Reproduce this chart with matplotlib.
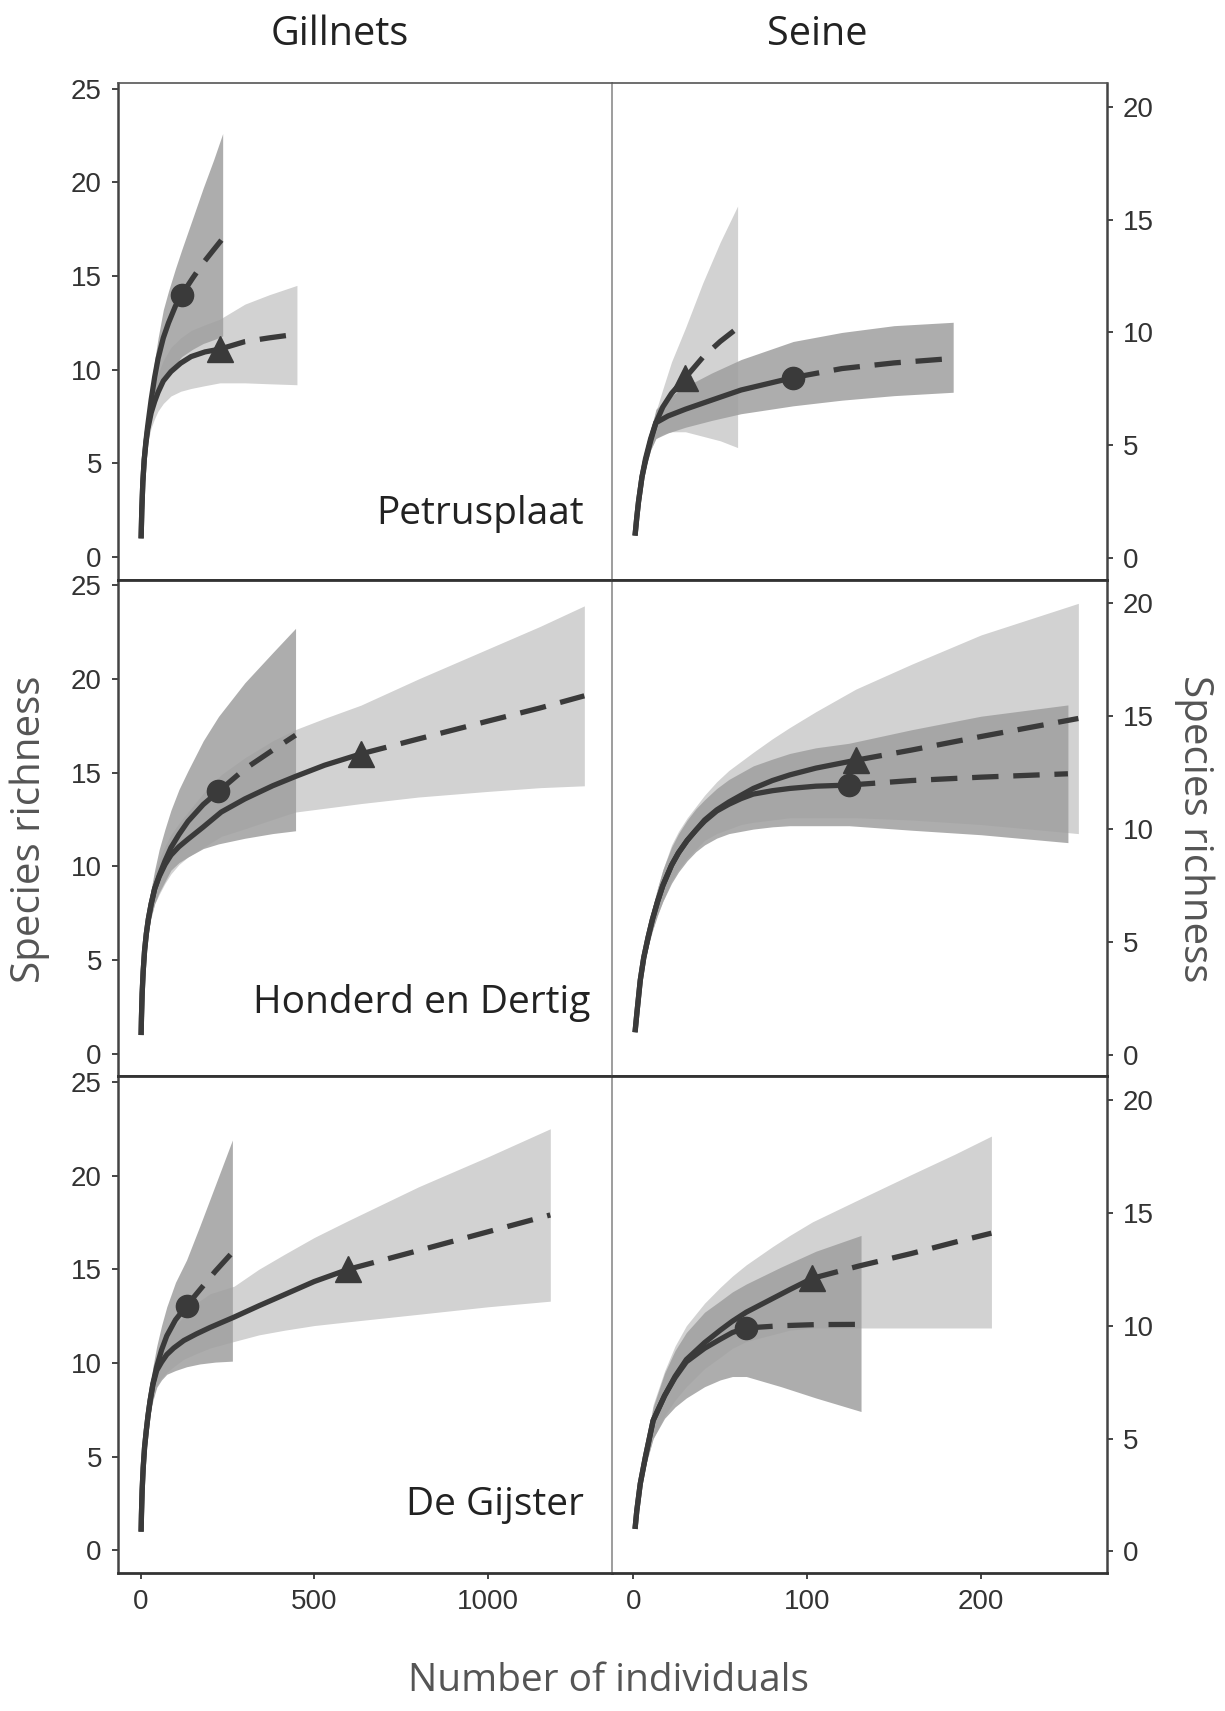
import matplotlib
matplotlib.use('Agg')
import matplotlib.pyplot as plt
import numpy as np

# ---- data (n = number of individuals, s = species) ----
# Petrusplaat, gillnets
pet_gn_circ_n = [1, 3, 6, 10, 15, 20, 30, 40, 50, 65, 80, 100, 118, 150, 180, 210, 236]
pet_gn_circ_s = [1, 2.5, 4.0, 5.2, 6.2, 7.0, 8.4, 9.6, 10.6, 11.7, 12.5, 13.4, 14.0,
                 14.9, 15.7, 16.4, 17.0]
pet_gn_circ_lo = [1, 2.3, 3.6, 4.7, 5.6, 6.3, 7.4, 8.3, 8.9, 9.5, 9.9, 10.3, 10.7,
                  11.1, 11.4, 11.6, 11.8]
pet_gn_circ_hi = [1, 2.7, 4.4, 5.8, 6.9, 7.8, 9.2, 10.5, 11.7, 13.2, 14.2, 15.4, 16.4,
                  18.1, 19.7, 21.2, 22.6]
pet_gn_circ_obs = 118
pet_gn_tri_n = [1, 3, 6, 10, 15, 20, 30, 40, 50, 65, 87, 115, 145, 185, 228, 300, 370, 450]
pet_gn_tri_s = [1, 2.5, 4.0, 5.2, 6.1, 6.8, 7.7, 8.3, 8.8, 9.4, 9.9, 10.35, 10.7, 10.95,
                11.1, 11.5, 11.7, 11.9]
pet_gn_tri_lo = [1, 2.3, 3.6, 4.7, 5.5, 6.1, 6.9, 7.4, 7.8, 8.2, 8.6, 8.85, 9.0, 9.15,
                 9.3, 9.3, 9.25, 9.2]
pet_gn_tri_hi = [1, 2.7, 4.4, 5.7, 6.7, 7.5, 8.5, 9.2, 9.8, 10.5, 11.2, 11.7, 12.1, 12.4,
                 12.7, 13.5, 14.0, 14.5]
pet_gn_tri_obs = 228

# Petrusplaat, seine
pet_se_tri_n = [1, 2, 3, 5, 7, 10, 13, 17, 22, 30, 40, 50, 60]
pet_se_tri_s = [1, 1.8, 2.5, 3.6, 4.4, 5.3, 6.0, 6.7, 7.3, 8.0, 8.9, 9.6, 10.2]
pet_se_tri_lo = [1, 1.7, 2.3, 3.3, 4.0, 4.8, 5.3, 5.5, 5.6, 5.6, 5.4, 5.2, 4.9]
pet_se_tri_hi = [1, 1.9, 2.7, 3.9, 4.8, 5.8, 6.5, 7.5, 8.7, 10.2, 12.2, 14.0, 15.6]
pet_se_tri_obs = 30
pet_se_circ_n = [1, 2, 3, 5, 7, 10, 13, 20, 30, 45, 62, 92, 120, 150, 184]
pet_se_circ_s = [1, 1.8, 2.5, 3.6, 4.3, 5.2, 6.0, 6.3, 6.6, 7.0, 7.45, 8.0, 8.4, 8.65, 8.85]
pet_se_circ_lo = [1, 1.7, 2.3, 3.4, 4.0, 4.8, 5.3, 5.55, 5.8, 6.1, 6.4, 6.75, 7.0, 7.2, 7.35]
pet_se_circ_hi = [1, 1.9, 2.7, 3.8, 4.6, 5.6, 6.6, 7.1, 7.6, 8.2, 8.8, 9.6, 10.0, 10.3, 10.45]
pet_se_circ_obs = 92

# Honderd en Dertig, gillnets
hon_gn_circ_n = [1, 2, 4, 7, 11, 16, 22, 30, 40, 53, 70, 87, 110, 136, 180, 224,
                 300, 380, 446]
hon_gn_circ_s = [1, 1.9, 3.2, 4.4, 5.5, 6.4, 7.2, 8.0, 8.8, 9.5, 10.3, 11.0, 11.7, 12.4,
                 13.3, 14.0, 15.2, 16.2, 17.0]
hon_gn_circ_lo = [1, 1.8, 3.0, 4.1, 5.1, 5.9, 6.6, 7.3, 8.0, 8.6, 9.2, 9.8, 10.2, 10.5,
                  10.95, 11.2, 11.5, 11.75, 11.9]
hon_gn_circ_hi = [1, 2.0, 3.4, 4.7, 5.9, 6.9, 7.8, 8.8, 9.8, 10.9, 12.0, 13.0, 14.1, 15.1,
                  16.7, 18.0, 19.8, 21.4, 22.7]
hon_gn_circ_obs = 224
hon_gn_tri_n = [1, 2, 4, 7, 11, 16, 22, 30, 40, 53, 70, 87, 110, 136, 180, 232, 300, 380,
                446, 530, 634, 800, 1000, 1150, 1278]
hon_gn_tri_s = [1, 1.9, 3.2, 4.4, 5.5, 6.4, 7.2, 8.0, 8.8, 9.45, 10.1, 10.6, 11.05, 11.45,
                12.1, 12.9, 13.6, 14.3, 14.8, 15.4, 16.0, 16.8, 17.75, 18.45, 19.1]
hon_gn_tri_lo = [1, 1.8, 3.0, 4.1, 5.1, 5.9, 6.6, 7.3, 8.0, 8.5, 9.1, 9.6, 10.1, 10.5,
                 11.0, 11.6, 12.0, 12.5, 12.9, 13.1, 13.35, 13.7, 14.0, 14.2, 14.3]
hon_gn_tri_hi = [1, 2.0, 3.4, 4.7, 5.9, 6.9, 7.8, 8.7, 9.6, 10.4, 11.1, 11.7, 12.3, 12.9,
                 13.9, 14.9, 15.8, 16.7, 17.3, 17.9, 18.6, 20.0, 21.6, 22.8, 23.9]
hon_gn_tri_obs = 634

# Honderd en Dertig, seine
hon_se_circ_n = [1, 2, 4, 6, 8.5, 11, 14, 17, 22, 26, 31, 36, 41, 48, 55, 62, 69, 80,
                 90, 105, 124, 160, 200, 250]
hon_se_circ_s = [1, 1.8, 3.3, 4.3, 5.2, 6.0, 6.8, 7.5, 8.4, 8.95, 9.5, 9.95, 10.35, 10.8,
                 11.1, 11.35, 11.55, 11.7, 11.8, 11.9, 11.95, 12.15, 12.3, 12.45]
hon_se_circ_lo = [1, 1.7, 3.1, 4.0, 4.8, 5.5, 6.2, 6.8, 7.6, 8.1, 8.6, 9.0, 9.3, 9.6,
                  9.8, 9.9, 10.0, 10.1, 10.15, 10.15, 10.15, 9.95, 9.75, 9.4]
hon_se_circ_hi = [1, 1.9, 3.5, 4.6, 5.6, 6.5, 7.4, 8.2, 9.2, 9.8, 10.4, 10.9, 11.3, 11.8,
                  12.2, 12.5, 12.8, 13.1, 13.35, 13.6, 13.8, 14.4, 15.0, 15.5]
hon_se_circ_obs = 124
hon_se_tri_n = [1, 2, 4, 6, 8.5, 11, 14, 17, 22, 26, 31, 36, 41, 48, 55, 62, 69, 80,
                90, 105, 128, 160, 200, 256]
hon_se_tri_s = [1, 1.8, 3.3, 4.3, 5.2, 6.0, 6.8, 7.5, 8.4, 8.95, 9.5, 9.95, 10.4, 10.85,
                11.2, 11.5, 11.8, 12.15, 12.4, 12.7, 13.05, 13.5, 14.1, 14.9]
hon_se_tri_lo = [1, 1.7, 3.1, 4.0, 4.8, 5.5, 6.2, 6.8, 7.7, 8.2, 8.7, 9.1, 9.5, 9.8,
                 10.0, 10.2, 10.3, 10.4, 10.5, 10.5, 10.5, 10.4, 10.2, 9.8]
hon_se_tri_hi = [1, 1.9, 3.5, 4.6, 5.6, 6.5, 7.4, 8.2, 9.3, 9.9, 10.5, 11.0, 11.5, 12.1,
                 12.6, 13.0, 13.4, 14.0, 14.5, 15.2, 16.2, 17.3, 18.6, 20.0]
hon_se_tri_obs = 128

# De Gijster, gillnets
gij_gn_circ_n = [1, 2, 4, 7, 11, 16, 21, 27, 35, 46, 60, 75, 100, 132, 170, 215, 264]
gij_gn_circ_s = [1, 1.9, 3.2, 4.4, 5.5, 6.4, 7.2, 8.0, 8.9, 9.8, 10.7, 11.45, 12.3, 13.05,
                 13.9, 14.9, 15.9]
gij_gn_circ_lo = [1, 1.8, 3.0, 4.1, 5.1, 5.9, 6.6, 7.3, 8.0, 8.7, 9.1, 9.4, 9.6, 9.8,
                  9.95, 10.05, 10.1]
gij_gn_circ_hi = [1, 2.0, 3.4, 4.7, 5.9, 6.9, 7.8, 8.7, 9.8, 10.9, 12.0, 13.0, 14.3, 15.5,
                  17.3, 19.5, 21.9]
gij_gn_circ_obs = 132
gij_gn_tri_n = [1, 2, 4, 7, 11, 16, 21, 27, 35, 46, 60, 75, 95, 124, 160, 200, 269, 340,
                414, 500, 598, 800, 1000, 1180]
gij_gn_tri_s = [1, 1.9, 3.2, 4.4, 5.5, 6.4, 7.2, 8.0, 8.85, 9.6, 10.05, 10.45, 10.8, 11.2,
                11.55, 11.9, 12.45, 13.05, 13.65, 14.35, 15.0, 16.0, 17.0, 17.9]
gij_gn_tri_lo = [1, 1.8, 3.0, 4.1, 5.1, 5.9, 6.6, 7.4, 8.1, 8.8, 9.2, 9.5, 9.8, 10.2,
                 10.5, 10.8, 11.15, 11.5, 11.75, 12.0, 12.2, 12.6, 13.0, 13.3]
gij_gn_tri_hi = [1, 2.0, 3.4, 4.7, 5.9, 6.9, 7.8, 8.6, 9.6, 10.4, 10.9, 11.4, 11.9, 12.5,
                 13.2, 13.7, 14.1, 15.0, 15.8, 16.7, 17.6, 19.4, 21.0, 22.5]
gij_gn_tri_obs = 598

# De Gijster, seine
gij_se_circ_n = [1, 2, 4, 7, 11.4, 18, 24, 30.5, 41, 50, 57, 65, 85, 105, 131]
gij_se_circ_s = [1, 1.8, 3.0, 4.2, 5.8, 6.9, 7.7, 8.4, 9.0, 9.4, 9.7, 9.9, 10.0, 10.05, 10.06]
gij_se_circ_lo = [1, 1.7, 2.8, 3.8, 5.0, 5.9, 6.4, 6.8, 7.3, 7.6, 7.75, 7.75, 7.3, 6.8, 6.2]
gij_se_circ_hi = [1, 1.9, 3.2, 4.6, 6.4, 7.9, 8.9, 9.7, 10.6, 11.1, 11.5, 11.85, 12.6,
                  13.3, 14.0]
gij_se_circ_obs = 65
gij_se_tri_n = [1, 2, 4, 7, 11.4, 18, 24, 30.5, 41, 50, 57, 65, 80, 90, 103, 130, 160,
                185, 206]
gij_se_tri_s = [1, 1.8, 3.0, 4.2, 5.8, 6.9, 7.75, 8.5, 9.25, 9.8, 10.2, 10.6, 11.2, 11.6,
                12.1, 12.65, 13.2, 13.7, 14.1]
gij_se_tri_lo = [1, 1.7, 2.8, 3.8, 5.0, 6.0, 6.7, 7.3, 8.1, 8.6, 9.0, 9.3, 9.6, 9.8, 9.9,
                 9.9, 9.9, 9.9, 9.9]
gij_se_tri_hi = [1, 1.9, 3.3, 4.7, 6.5, 8.0, 9.1, 10.0, 11.0, 11.7, 12.2, 12.7, 13.5, 14.0,
                 14.6, 15.6, 16.7, 17.6, 18.4]
gij_se_tri_obs = 103

gear_titles = ['Gillnets', 'Seine']
site_names = ['Petrusplaat', 'Honderd en Dertig', 'De Gijster']
gill_xticks = [0, 500, 1000]
seine_xticks = [0, 100, 200]
gill_yticks = [0, 5, 10, 15, 20, 25]
seine_yticks = [0, 5, 10, 15, 20]

LINE = '#3a3a3a'
LIGHT = '#d2d2d2'
DARK = '#9f9f9f'
TXT = 'Open Sans'

plt.rcParams['font.family'] = ['Liberation Sans', 'DejaVu Sans']


def draw_curve(ax, n, s, lo, hi, n_obs, marker, shade, alpha, z):
    n = np.asarray(n, float)
    s = np.asarray(s, float)
    ax.fill_between(n, lo, hi, color=shade, alpha=alpha, lw=0, zorder=z)
    i = int(np.where(n == n_obs)[0][0])
    ax.plot(n[:i + 1], s[:i + 1], color=LINE, lw=3.8, solid_capstyle='butt',
            solid_joinstyle='round', zorder=5)
    ax.plot(n[i:], s[i:], color=LINE, lw=3.8, dashes=(5.0, 2.8), zorder=5)
    ms = 16 if marker == 'o' else 19
    ax.plot([n[i]], [s[i]], marker=marker, ms=ms, color=LINE, mec=LINE, zorder=6)


panels = [
    [(pet_gn_tri_n, pet_gn_tri_s, pet_gn_tri_lo, pet_gn_tri_hi, pet_gn_tri_obs),
     (pet_gn_circ_n, pet_gn_circ_s, pet_gn_circ_lo, pet_gn_circ_hi, pet_gn_circ_obs)],
    [(pet_se_tri_n, pet_se_tri_s, pet_se_tri_lo, pet_se_tri_hi, pet_se_tri_obs),
     (pet_se_circ_n, pet_se_circ_s, pet_se_circ_lo, pet_se_circ_hi, pet_se_circ_obs)],
    [(hon_gn_tri_n, hon_gn_tri_s, hon_gn_tri_lo, hon_gn_tri_hi, hon_gn_tri_obs),
     (hon_gn_circ_n, hon_gn_circ_s, hon_gn_circ_lo, hon_gn_circ_hi, hon_gn_circ_obs)],
    [(hon_se_tri_n, hon_se_tri_s, hon_se_tri_lo, hon_se_tri_hi, hon_se_tri_obs),
     (hon_se_circ_n, hon_se_circ_s, hon_se_circ_lo, hon_se_circ_hi, hon_se_circ_obs)],
    [(gij_gn_tri_n, gij_gn_tri_s, gij_gn_tri_lo, gij_gn_tri_hi, gij_gn_tri_obs),
     (gij_gn_circ_n, gij_gn_circ_s, gij_gn_circ_lo, gij_gn_circ_hi, gij_gn_circ_obs)],
    [(gij_se_tri_n, gij_se_tri_s, gij_se_tri_lo, gij_se_tri_hi, gij_se_tri_obs),
     (gij_se_circ_n, gij_se_circ_s, gij_se_circ_lo, gij_se_circ_hi, gij_se_circ_obs)],
]
site_pos = [(0.942, 0.132), (0.956, 0.147), (0.942, 0.136)]

fig = plt.figure(figsize=(12.25, 17.11), dpi=100)
gs = fig.add_gridspec(3, 2, left=0.0962, right=0.9037, bottom=0.0807, top=0.9515,
                      hspace=0, wspace=0)

for r in range(3):
    for c in range(2):
        ax = fig.add_subplot(gs[r, c])
        tri, circ = panels[2 * r + c]
        draw_curve(ax, *tri, '^', LIGHT, 1.0, 1)
        draw_curve(ax, *circ, 'o', DARK, 0.85, 2)

        if c == 0:
            ax.set_xlim(-66, 1359)
            ax.set_ylim(-1.2, 25.3)
            ax.set_yticks(gill_yticks)
            ax.set_xticks(gill_xticks)
            ax.spines['right'].set_visible(False)
            ax.spines['left'].set_color('#444444')
            ax.spines['left'].set_linewidth(1.8)
            x_txt, y_txt = site_pos[r]
            ax.text(x_txt, y_txt, site_names[r], transform=ax.transAxes, ha='right',
                    va='center', fontsize=28, family=TXT, color='#222222')
        else:
            ax.set_xlim(-12, 272.5)
            ax.set_ylim(-0.95, 21.05)
            ax.set_yticks(seine_yticks)
            ax.set_xticks(seine_xticks)
            ax.yaxis.tick_right()
            ax.spines['left'].set_color('#8c8c8c')
            ax.spines['left'].set_linewidth(1.2)
            ax.spines['right'].set_color('#444444')
            ax.spines['right'].set_linewidth(1.8)

        ax.spines['bottom'].set_color('#333333')
        ax.spines['bottom'].set_linewidth(2.0)
        ax.spines['top'].set_color('#555555' if r == 0 else '#333333')
        ax.spines['top'].set_linewidth(1.2 if r == 0 else 2.0)

        ax.tick_params(axis='y', labelsize=20, length=4.5, width=1.4, color='#444444',
                       labelcolor='#333333', pad=7)
        if r == 2:
            ax.tick_params(axis='x', labelsize=20, length=4.5, width=1.4, color='#444444',
                           labelcolor='#333333', pad=7)
        else:
            ax.tick_params(axis='x', bottom=False, labelbottom=False)

fig.text(0.277, 0.9795, gear_titles[0], ha='center', va='center', fontsize=28.5,
         family=TXT, color='#222222')
fig.text(0.667, 0.9795, gear_titles[1], ha='center', va='center', fontsize=28.5,
         family=TXT, color='#222222')
fig.text(0.024, 0.5155, 'Species richness', rotation=90, ha='center', va='center',
         fontsize=29, family=TXT, color='#555555')
fig.text(0.975, 0.5155, 'Species richness', rotation=270, ha='center', va='center',
         fontsize=29, family=TXT, color='#555555')
fig.text(0.4969, 0.0175, 'Number of individuals', ha='center', va='center',
         fontsize=28, family=TXT, color='#555555')

fig.savefig('out.png', dpi=100)
